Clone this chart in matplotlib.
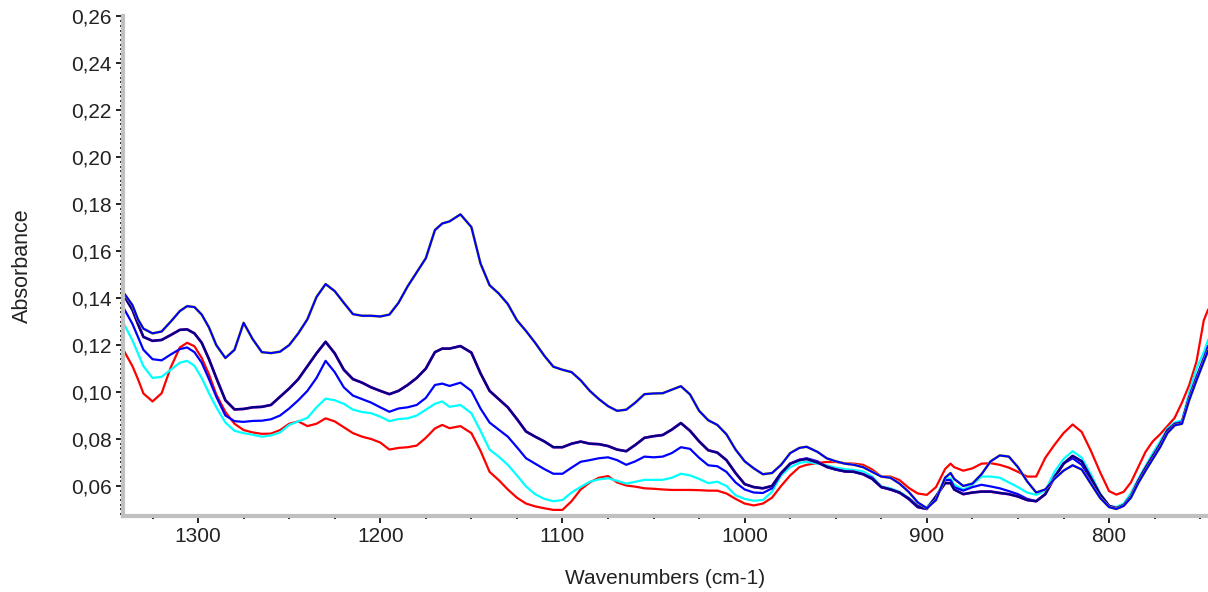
import numpy as np
import matplotlib
matplotlib.use("Agg")
import matplotlib.pyplot as plt
from matplotlib.ticker import MultipleLocator, FuncFormatter

# IR absorbance spectra (wavenumber grid, cm-1)
wavenumber = [
    1341, 1336, 1333, 1330, 1325, 1320, 1315, 1310, 1306, 1302,
    1298, 1294, 1290, 1285, 1280, 1275, 1270, 1265, 1260, 1255,
    1250, 1245, 1240, 1235, 1230, 1225, 1220, 1215, 1210, 1205,
    1200, 1195, 1190, 1185, 1180, 1175, 1170, 1166, 1162, 1156,
    1150, 1145, 1140, 1135, 1130, 1125, 1120, 1115, 1110, 1105,
    1100, 1095, 1090, 1085, 1080, 1075, 1070, 1065, 1060, 1055,
    1050, 1045, 1040, 1035, 1030, 1025, 1020, 1015, 1010, 1005,
    1000, 995, 990, 985, 980, 975, 970, 966, 960, 955,
    950, 945, 940, 935, 930, 925, 920, 915, 910, 905,
    900, 895, 890, 887, 885, 880, 875, 870, 865, 860,
    855, 850, 845, 840, 835, 830, 825, 820, 815, 810,
    805, 800, 796, 792, 788, 784, 780, 776, 772, 768,
    764, 760, 756, 752, 748, 745.7]

# top spectrum (blue drawn over yellow)
spec_top = [
    0.1425, 0.1370, 0.1310, 0.1270, 0.1250, 0.1258, 0.1300, 0.1345, 0.1366, 0.1362,
    0.1330, 0.1275, 0.1200, 0.1145, 0.1180, 0.1295, 0.1225, 0.1170, 0.1166, 0.1172,
    0.1200, 0.1250, 0.1310, 0.1405, 0.1460, 0.1430, 0.1380, 0.1332, 0.1325, 0.1325,
    0.1322, 0.1330, 0.1380, 0.1450, 0.1510, 0.1570, 0.1690, 0.1718, 0.1727, 0.1757,
    0.1703, 0.1548, 0.1455, 0.1420, 0.1375, 0.1306, 0.1260, 0.1210, 0.1155, 0.1108,
    0.1095, 0.1085, 0.1050, 0.1005, 0.0970, 0.0940, 0.0920, 0.0925, 0.0955, 0.0991,
    0.0994, 0.0995, 0.1010, 0.1025, 0.0990, 0.0920, 0.0880, 0.0860, 0.0820, 0.0755,
    0.0705, 0.0675, 0.0650, 0.0655, 0.0690, 0.0740, 0.0762, 0.0767, 0.0745, 0.0718,
    0.0705, 0.0695, 0.0690, 0.0680, 0.0660, 0.0640, 0.0635, 0.0610, 0.0575, 0.0530,
    0.0505, 0.0540, 0.0635, 0.0655, 0.0630, 0.0600, 0.0610, 0.0650, 0.0705, 0.0730,
    0.0725, 0.0680, 0.0620, 0.0572, 0.0585, 0.0630, 0.0665, 0.0688, 0.0670, 0.0610,
    0.0550, 0.0510, 0.0502, 0.0515, 0.0550, 0.0612, 0.0665, 0.0715, 0.0765, 0.0825,
    0.0858, 0.0865, 0.0966, 0.1050, 0.1130, 0.1175]

# second spectrum (navy drawn over magenta)
spec_navy = [
    0.1415, 0.1350, 0.1290, 0.1235, 0.1218, 0.1222, 0.1243, 0.1265, 0.1267, 0.1250,
    0.1210, 0.1140, 0.1060, 0.0965, 0.0926, 0.0928, 0.0935, 0.0937, 0.0945, 0.0980,
    0.1015, 0.1055, 0.1110, 0.1165, 0.1214, 0.1165, 0.1095, 0.1055, 0.1040, 0.1020,
    0.1005, 0.0991, 0.1005, 0.1030, 0.1060, 0.1100, 0.1170, 0.1185, 0.1185, 0.1196,
    0.1168, 0.1080, 0.1005, 0.0970, 0.0935, 0.0885, 0.0832, 0.0810, 0.0790, 0.0765,
    0.0765, 0.0780, 0.0789, 0.0780, 0.0778, 0.0770, 0.0755, 0.0748, 0.0775, 0.0805,
    0.0812, 0.0817, 0.0840, 0.0868, 0.0835, 0.0790, 0.0752, 0.0742, 0.0710, 0.0655,
    0.0608, 0.0595, 0.0590, 0.0600, 0.0655, 0.0695, 0.0710, 0.0715, 0.0700, 0.0682,
    0.0670, 0.0662, 0.0660, 0.0650, 0.0630, 0.0595, 0.0585, 0.0572, 0.0545, 0.0510,
    0.0502, 0.0555, 0.0612, 0.0612, 0.0585, 0.0565, 0.0572, 0.0576, 0.0576, 0.0570,
    0.0565, 0.0555, 0.0540, 0.0535, 0.0565, 0.0635, 0.0695, 0.0728, 0.0705, 0.0635,
    0.0565, 0.0515, 0.0505, 0.0518, 0.0555, 0.0620, 0.0675, 0.0725, 0.0775, 0.0835,
    0.0862, 0.0870, 0.0975, 0.1060, 0.1140, 0.1180]

# third spectrum (blue)
spec_blue = [
    0.1360, 0.1290, 0.1235, 0.1180, 0.1140, 0.1135, 0.1160, 0.1183, 0.1190, 0.1170,
    0.1125, 0.1055, 0.0980, 0.0900, 0.0876, 0.0873, 0.0877, 0.0878, 0.0884, 0.0900,
    0.0930, 0.0965, 0.1005, 0.1060, 0.1133, 0.1085, 0.1020, 0.0985, 0.0970, 0.0955,
    0.0935, 0.0916, 0.0930, 0.0935, 0.0945, 0.0975, 0.1030, 0.1036, 0.1026, 0.1040,
    0.1005, 0.0930, 0.0870, 0.0840, 0.0810, 0.0765, 0.0718, 0.0695, 0.0672, 0.0652,
    0.0652, 0.0678, 0.0703, 0.0710, 0.0718, 0.0722, 0.0710, 0.0690, 0.0705, 0.0725,
    0.0722, 0.0725, 0.0740, 0.0765, 0.0758, 0.0720, 0.0688, 0.0684, 0.0660, 0.0615,
    0.0585, 0.0572, 0.0570, 0.0590, 0.0652, 0.0695, 0.0712, 0.0718, 0.0705, 0.0680,
    0.0670, 0.0662, 0.0660, 0.0650, 0.0635, 0.0595, 0.0585, 0.0570, 0.0548, 0.0515,
    0.0505, 0.0550, 0.0625, 0.0625, 0.0595, 0.0580, 0.0595, 0.0605, 0.0598, 0.0590,
    0.0578, 0.0565, 0.0545, 0.0535, 0.0565, 0.0640, 0.0695, 0.0718, 0.0690, 0.0626,
    0.0560, 0.0515, 0.0505, 0.0518, 0.0555, 0.0622, 0.0678, 0.0728, 0.0778, 0.0838,
    0.0865, 0.0872, 0.0978, 0.1065, 0.1145, 0.1195]

# fourth spectrum (cyan)
spec_cyan = [
    0.1295, 0.1220, 0.1165, 0.1110, 0.1060, 0.1065, 0.1095, 0.1125, 0.1133, 0.1112,
    0.1060, 0.0995, 0.0935, 0.0870, 0.0835, 0.0825, 0.0818, 0.0810, 0.0815, 0.0828,
    0.0860, 0.0875, 0.0890, 0.0935, 0.0972, 0.0965, 0.0950, 0.0925, 0.0915, 0.0910,
    0.0895, 0.0876, 0.0885, 0.0888, 0.0900, 0.0925, 0.0950, 0.0960, 0.0937, 0.0945,
    0.0910, 0.0835, 0.0755, 0.0725, 0.0690, 0.0645, 0.0598, 0.0565, 0.0545, 0.0535,
    0.0540, 0.0572, 0.0596, 0.0618, 0.0628, 0.0633, 0.0622, 0.0610, 0.0618, 0.0626,
    0.0626, 0.0626, 0.0635, 0.0652, 0.0645, 0.0630, 0.0612, 0.0618, 0.0600, 0.0560,
    0.0545, 0.0537, 0.0540, 0.0575, 0.0645, 0.0680, 0.0698, 0.0703, 0.0695, 0.0688,
    0.0678, 0.0672, 0.0668, 0.0662, 0.0640, 0.0598, 0.0590, 0.0575, 0.0550, 0.0515,
    0.0510, 0.0555, 0.0630, 0.0632, 0.0605, 0.0585, 0.0605, 0.0640, 0.0640, 0.0635,
    0.0615, 0.0595, 0.0572, 0.0562, 0.0580, 0.0660, 0.0715, 0.0748, 0.0720, 0.0650,
    0.0570, 0.0515, 0.0510, 0.0525, 0.0570, 0.0630, 0.0685, 0.0740, 0.0790, 0.0845,
    0.0870, 0.0880, 0.1000, 0.1100, 0.1170, 0.1221]

# fifth spectrum (red)
spec_red = [
    0.1180, 0.1110, 0.1055, 0.0994, 0.0960, 0.0995, 0.1105, 0.1190, 0.1210, 0.1195,
    0.1145, 0.1075, 0.0990, 0.0915, 0.0865, 0.0838, 0.0828, 0.0822, 0.0823, 0.0838,
    0.0865, 0.0875, 0.0855, 0.0865, 0.0888, 0.0875, 0.0850, 0.0825, 0.0810, 0.0800,
    0.0785, 0.0755, 0.0762, 0.0765, 0.0772, 0.0805, 0.0845, 0.0860, 0.0846, 0.0855,
    0.0825, 0.0750, 0.0660, 0.0625, 0.0585, 0.0550, 0.0525, 0.0513, 0.0505, 0.0498,
    0.0498, 0.0535, 0.0585, 0.0615, 0.0635, 0.0642, 0.0615, 0.0602, 0.0597, 0.0590,
    0.0588, 0.0585, 0.0583, 0.0583, 0.0583, 0.0582, 0.0580, 0.0580, 0.0568, 0.0545,
    0.0525, 0.0517, 0.0525, 0.0550, 0.0600, 0.0645, 0.0680, 0.0690, 0.0698, 0.0702,
    0.0702, 0.0697, 0.0695, 0.0690, 0.0670, 0.0640, 0.0640, 0.0625, 0.0592, 0.0568,
    0.0562, 0.0595, 0.0672, 0.0695, 0.0680, 0.0665, 0.0675, 0.0695, 0.0697, 0.0690,
    0.0678, 0.0660, 0.0640, 0.0640, 0.0720, 0.0775, 0.0825, 0.0862, 0.0830, 0.0750,
    0.0660, 0.0578, 0.0563, 0.0575, 0.0615, 0.0680, 0.0745, 0.0790, 0.0820, 0.0855,
    0.0890, 0.0955, 0.1030, 0.1130, 0.1306, 0.1350]

x_ticks = [1300, 1200, 1100, 1000, 900, 800]
y_ticks = [0.06, 0.08, 0.10, 0.12, 0.14, 0.16, 0.18, 0.20, 0.22, 0.24, 0.26]

plt.rcParams['font.family'] = ['Liberation Sans', 'DejaVu Sans']
txt_col = '#222222'
spine_col = '#c0c0c0'

fig = plt.figure(figsize=(12.08, 5.92), dpi=100)
ax = fig.add_axes([123 / 1208, 76 / 592, 1 - 123 / 1208, 500 / 592])

lw = 1.6
ax.plot(wavenumber, spec_red, color='#ff0000', lw=lw)
ax.plot(wavenumber, spec_cyan, color='#00ffff', lw=lw)
ax.plot(wavenumber, spec_blue, color='#0000ff', lw=lw)
# underlying magenta / yellow spectra peek out from under the dark ones
ax.plot(wavenumber, spec_navy, color='#ff00ff', lw=lw + 0.3)
ax.plot(wavenumber, spec_navy, color='#000080', lw=lw + 0.2)
ax.plot(wavenumber, spec_top, color='#e8e800', lw=lw + 0.4)
ax.plot(wavenumber, spec_top, color='#0000ff', lw=lw)

ax.set_xlim(1341.2, 745.7)
ax.set_ylim(0.0472, 0.2602)

ax.set_xticks(x_ticks)
ax.xaxis.set_minor_locator(MultipleLocator(25))
ax.set_yticks(y_ticks)
ax.yaxis.set_minor_locator(MultipleLocator(0.002))
ax.yaxis.set_major_formatter(FuncFormatter(lambda v, p: '{:.2f}'.format(v).replace('.', ',')))

for s in ['top', 'right']:
    ax.spines[s].set_visible(False)
for s in ['left', 'bottom']:
    ax.spines[s].set_color(spine_col)
    ax.spines[s].set_linewidth(3)

ax.tick_params(which='major', direction='out', length=5, width=1.3,
               color='#111111', labelsize=15, labelcolor=txt_col, pad=3)
ax.tick_params(which='minor', direction='out', length=2, width=1.3,
               color='#111111')

ax.set_xlabel('Wavenumbers (cm-1)', fontsize=15, color=txt_col)
ax.set_ylabel('Absorbance', fontsize=15.5, color=txt_col)
ax.xaxis.set_label_coords(0.5, -0.105)
ax.yaxis.set_label_coords(-0.083, 0.5)

fig.savefig('out.png', dpi=100, facecolor='white')
